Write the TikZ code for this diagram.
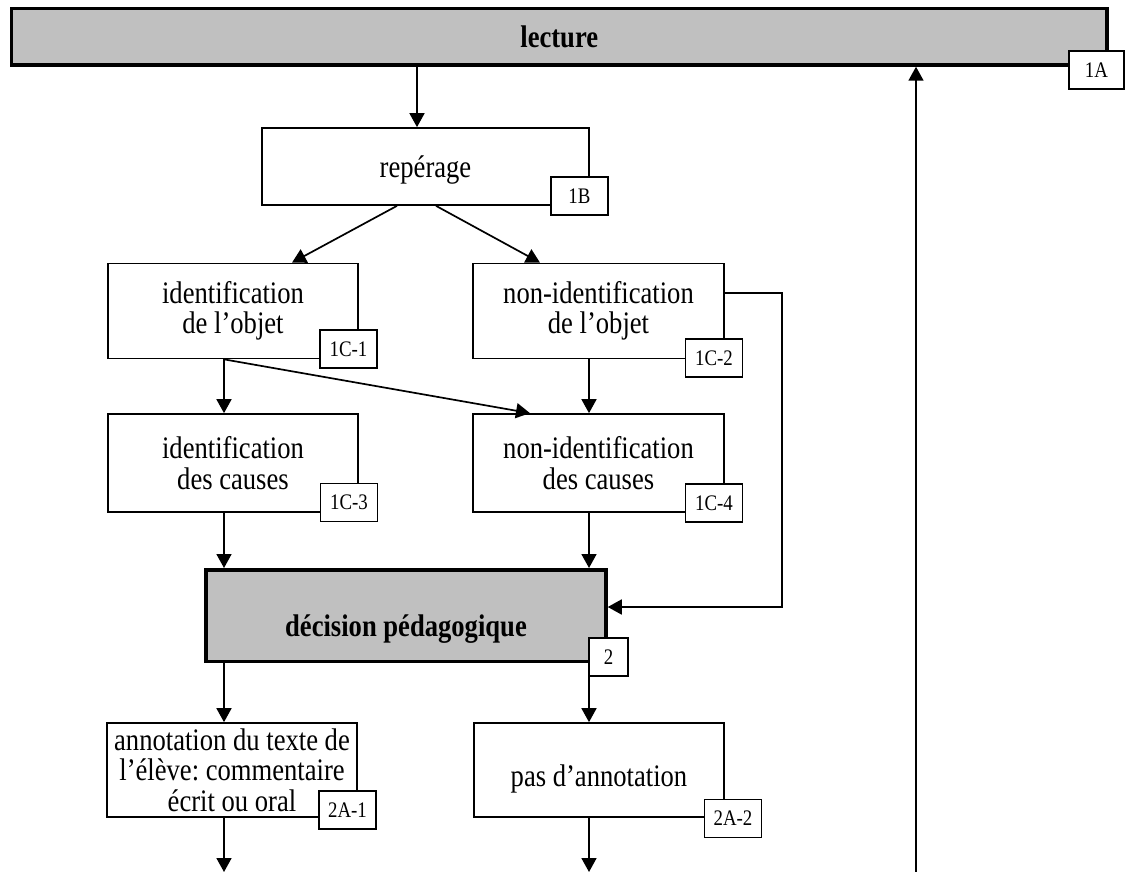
\documentclass[tikz,border=0pt]{standalone}
\usepackage{fontspec}
\setmainfont[FakeStretch=0.85]{Liberation Serif}
\usetikzlibrary{arrows.meta}
\definecolor{boxgrey}{RGB}{192,192,192}
\frenchspacing
\begin{document}
\begin{tikzpicture}[x=1pt,y=-1pt,
  txt/.style={font=\fontsize{31.3}{30.4}\selectfont},
  box/.style={draw,line width=1.7pt,fill=white,inner sep=0pt,align=center,txt},
  bigbox/.style={draw,line width=3.5pt,fill=boxgrey,inner sep=0pt,
    font=\bfseries\fontsize{31.3}{30.4}\selectfont},
  tag/.style={draw,line width=1.5pt,fill=white,inner sep=0pt,
    minimum width=57pt,minimum height=38pt,font=\fontsize{22.2}{24}\selectfont},
  arr/.style={line width=1.7pt,-{Triangle[length=14pt,width=15pt]}}]
\useasboundingbox (0,0) rectangle (1125,872);

% main boxes
\node[bigbox,minimum width=1095.5pt,minimum height=56.5pt] (lecture) at (559.25,36.75) {lecture};
\node[box,minimum width=327pt,minimum height=77pt] (rep) at (425.5,166.5) {};
\node[txt] (reptext) at (425.5,170) {repérage};
\node[box,minimum width=250pt,minimum height=95pt] (idobj) at (233,311) {identification\\de l’objet};
\node[box,minimum width=251pt,minimum height=95pt] (nidobj) at (598.5,311) {non-identification\\de l’objet};
\node[box,minimum width=250pt,minimum height=98pt] (idcau) at (233,463) {identification\\des causes};
\node[box,minimum width=251pt,minimum height=98pt] (nidcau) at (598.5,463) {non-identification\\des causes};
\node[bigbox,minimum width=400pt,minimum height=91.5pt] (dec) at (406,615.5) {};
\node[font=\bfseries\fontsize{31.3}{30.4}\selectfont] (dectext) at (406,629) {décision pédagogique};
\node[box,minimum width=250pt,minimum height=94pt] (ann) at (232,770) {annotation du texte de\\l’élève: commentaire\\écrit ou oral};
\node[box,minimum width=250pt,minimum height=94pt] (pas) at (599,770) {};
\node[txt] (pastext) at (599,779) {pas d’annotation};

% reference tags
\node[tag,minimum width=55pt] (t1A) at (1096.5,70) {1A};
\node[tag] (t1B) at (579.5,196) {1B};
\node[tag] (t1C1) at (348.5,349) {1C-1};
\node[tag] (t1C2) at (714,358) {1C-2};
\node[tag] (t1C3) at (349,502.5) {1C-3};
\node[tag] (t1C4) at (714,503) {1C-4};
\node[tag,minimum width=39pt] (t2) at (608.5,657) {2};
\node[tag] (t2A1) at (347.5,810) {2A-1};
\node[tag] (t2A2) at (733,818.5) {2A-2};

% connector columns and bends
\coordinate (xa) at (417,0);
\coordinate (r1) at (397,0);
\coordinate (r2) at (292,0);
\coordinate (r3) at (436,0);
\coordinate (r4) at (540,0);
\coordinate (xl) at (224,0);
\coordinate (xr) at (589,0);
\coordinate (xd) at (530,0);
\coordinate (k1) at (782,293);
\coordinate (k2) at (782,607);
\coordinate (e1) at (224,872);
\coordinate (e2) at (589,872);
\coordinate (e3) at (916,872);

% connectors
\draw[arr] (lecture.south -| xa) -- (rep.north -| xa);
\draw[arr] (rep.south -| r1) -- (idobj.north -| r2);
\draw[arr] (rep.south -| r3) -- (nidobj.north -| r4);
\draw[arr] (idobj.south -| xl) -- (idcau.north -| xl);
\draw[arr] (idobj.south -| xl) -- (nidcau.north -| xd);
\draw[arr] (nidobj.south -| xr) -- (nidcau.north -| xr);
\draw[arr] (idcau.south -| xl) -- (dec.north -| xl);
\draw[arr] (nidcau.south -| xr) -- (dec.north -| xr);
\draw[arr] (nidobj.east |- k1) -- (k1) -- (k2) -- (dec.east |- k2);
\draw[arr] (dec.south -| xl) -- (ann.north -| xl);
\draw[arr] (dec.south -| xr) -- (pas.north -| xr);
\draw[arr] (ann.south -| e1) -- (e1);
\draw[arr] (pas.south -| e2) -- (e2);
\draw[arr] (e3) -- (lecture.south -| e3);
\end{tikzpicture}
\end{document}
